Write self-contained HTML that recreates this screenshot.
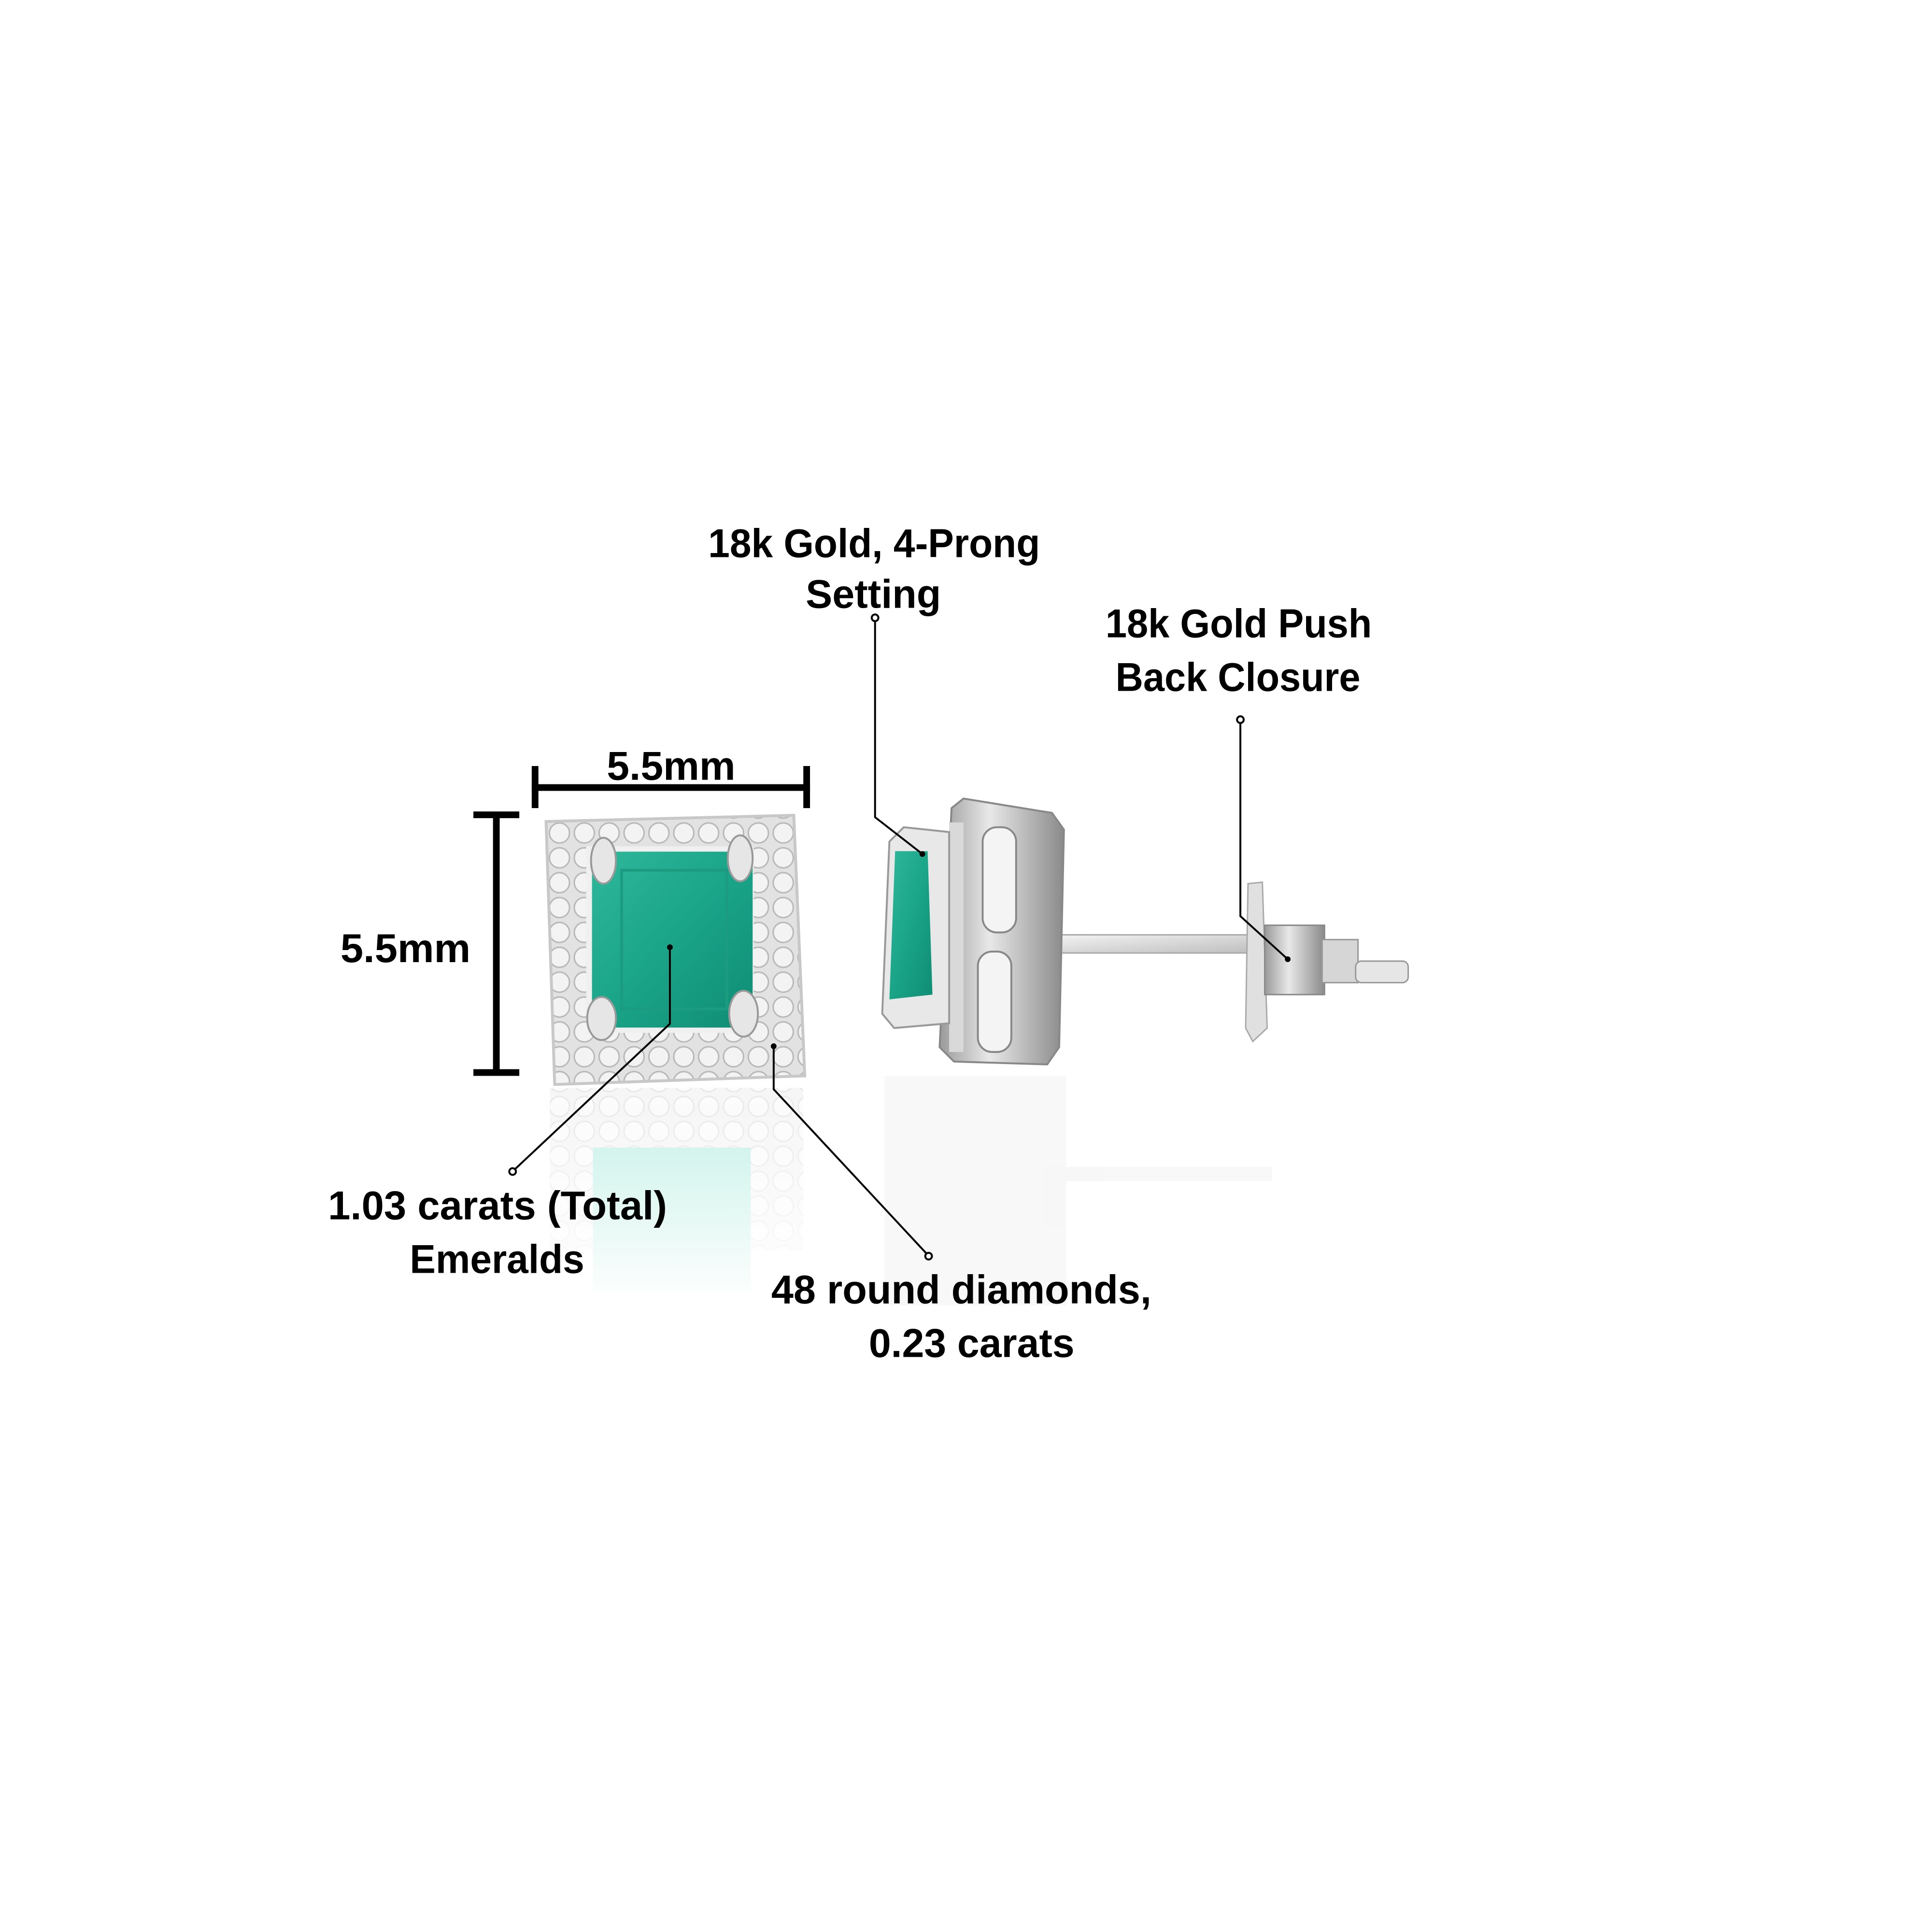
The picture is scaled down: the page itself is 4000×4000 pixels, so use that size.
<!DOCTYPE html>
<html><head><meta charset="utf-8"><style>
html,body{margin:0;padding:0;background:#fff;}
svg{display:block;}
text{font-family:"Liberation Sans",sans-serif;font-weight:bold;fill:#000;font-size:84px;}
</style></head><body>
<svg width="4000" height="4000" viewBox="0 0 4000 4000" xmlns="http://www.w3.org/2000/svg">
<defs>
<linearGradient id="metal" x1="0" y1="0" x2="1" y2="1">
<stop offset="0" stop-color="#f4f4f4"/><stop offset="0.5" stop-color="#d8d8d8"/><stop offset="1" stop-color="#bdbdbd"/>
</linearGradient>
<linearGradient id="em" x1="0" y1="0" x2="1" y2="1">
<stop offset="0" stop-color="#2fb89a"/><stop offset="0.5" stop-color="#1aa488"/><stop offset="1" stop-color="#0f8d74"/>
</linearGradient>
<linearGradient id="side" x1="0" y1="0" x2="1" y2="0">
<stop offset="0" stop-color="#9a9a9a"/><stop offset="0.4" stop-color="#e8e8e8"/><stop offset="1" stop-color="#8a8a8a"/>
</linearGradient>
<linearGradient id="fade" x1="0" y1="0" x2="0" y2="1">
<stop offset="0" stop-color="#fff" stop-opacity="0.3"/><stop offset="1" stop-color="#fff" stop-opacity="1"/>
</linearGradient>
<pattern id="dia" width="52" height="52" patternUnits="userSpaceOnUse">
<rect width="52" height="52" fill="#e2e2e2"/>
<circle cx="26" cy="26" r="21" fill="#f3f3f3" stroke="#b8b8b8" stroke-width="3"/>
</pattern>
</defs>
<g transform="scale(0.99)">
<!-- front earring reflection -->
<g opacity="0.45">
<rect x="1150" y="2275" width="530" height="340" fill="url(#dia)"/>
<rect x="1240" y="2400" width="330" height="300" fill="#3fcfae"/>
</g>
<rect x="1140" y="2270" width="560" height="460" fill="url(#fade)"/>

<!-- front earring -->
<polygon points="1142,1718 1660,1705 1683,2250 1160,2268" fill="url(#dia)" stroke="#c8c8c8" stroke-width="6"/>
<rect x="1226" y="1770" width="350" height="390" fill="#f0f0f0"/>
<polygon points="1268,1781 1548,1781 1574,1810 1574,2130 1548,2149 1268,2149 1238,2130 1238,1810" fill="url(#em)"/>
<path d="M1300 1820 L1520 1820 L1520 2110 L1300 2110 Z" fill="none" stroke="#1b9c80" stroke-width="6"/>
<ellipse cx="1262" cy="1800" rx="26" ry="48" fill="#e6e6e6" stroke="#999" stroke-width="4"/>
<ellipse cx="1548" cy="1795" rx="26" ry="48" fill="#e6e6e6" stroke="#999" stroke-width="4"/>
<ellipse cx="1258" cy="2130" rx="30" ry="45" fill="#e6e6e6" stroke="#999" stroke-width="4"/>
<ellipse cx="1555" cy="2120" rx="30" ry="48" fill="#e6e6e6" stroke="#999" stroke-width="4"/>

<!-- side earring reflection -->
<g opacity="0.1">
<rect x="1850" y="2250" width="380" height="480" fill="#bbb"/>
<rect x="2200" y="2440" width="460" height="30" fill="#bbb"/>
</g>

<!-- side earring -->
<rect x="2200" y="1955" width="440" height="38" fill="url(#metal)" stroke="#aaa" stroke-width="3"/>
<polygon points="1990,1690 2015,1670 2200,1700 2225,1735 2215,2190 2190,2226 1995,2220 1965,2190" fill="url(#side)" stroke="#888" stroke-width="4"/>
<rect x="1985" y="1720" width="30" height="480" fill="#d9d9d9"/>
<rect x="2055" y="1730" width="70" height="220" rx="30" fill="#f4f4f4" stroke="#888" stroke-width="4"/>
<rect x="2045" y="1990" width="70" height="210" rx="30" fill="#f4f4f4" stroke="#888" stroke-width="4"/>
<polygon points="1860,1760 1890,1730 1985,1740 1985,2140 1870,2150 1845,2120" fill="#e8e8e8" stroke="#999" stroke-width="4"/>
<polygon points="1872,1780 1940,1780 1950,2080 1860,2090" fill="url(#em)"/>
<!-- push back -->
<polygon points="2610,1848 2640,1845 2650,2150 2620,2178 2605,2150" fill="#e0e0e0" stroke="#aaa" stroke-width="3"/>
<rect x="2645" y="1935" width="125" height="145" fill="url(#side)" stroke="#888" stroke-width="3"/>
<rect x="2765" y="1965" width="75" height="90" fill="#d6d6d6" stroke="#999" stroke-width="3"/>
<rect x="2835" y="2010" width="110" height="45" rx="12" fill="#e6e6e6" stroke="#999" stroke-width="3"/>

<!-- dimension bars -->
<g fill="#000">
<rect x="1112" y="1640" width="582" height="14"/>
<rect x="1112" y="1602" width="14" height="88"/>
<rect x="1680" y="1602" width="14" height="88"/>
<rect x="1031" y="1700" width="14" height="548"/>
<rect x="990" y="1697" width="96" height="14"/>
<rect x="990" y="2236" width="96" height="14"/>
</g>

<!-- leader lines -->
<g stroke="#000" stroke-width="4" fill="none">
<polyline points="1830,1300 1830,1709 1929,1786"/>
<polyline points="2594,1513 2594,1916 2693,2006"/>
<polyline points="1076,2446 1401,2141 1401,1981"/>
<polyline points="1938,2622 1618,2278 1618,2188"/>
</g>
<g stroke="#000" stroke-width="4" fill="#fff">
<circle cx="1830" cy="1292" r="7"/>
<circle cx="2594" cy="1505" r="7"/>
<circle cx="1072" cy="2450" r="7"/>
<circle cx="1942" cy="2627" r="7"/>
</g>
<g fill="#000">
<circle cx="1929" cy="1786" r="6"/><circle cx="2693" cy="2006" r="6"/>
<circle cx="1401" cy="1981" r="6"/><circle cx="1618" cy="2188" r="6"/>
</g>

<!-- labels -->
<text x="1481" y="1165" textLength="694" lengthAdjust="spacingAndGlyphs">18k Gold, 4-Prong</text>
<text x="1685" y="1271" textLength="283" lengthAdjust="spacingAndGlyphs">Setting</text>
<text x="2312" y="1333" textLength="557" lengthAdjust="spacingAndGlyphs">18k Gold Push</text>
<text x="2333" y="1445" textLength="512" lengthAdjust="spacingAndGlyphs">Back Closure</text>
<text x="1269" y="1631" textLength="269" lengthAdjust="spacingAndGlyphs">5.5mm</text>
<text x="712" y="2012" textLength="272" lengthAdjust="spacingAndGlyphs">5.5mm</text>
<text x="686" y="2550" textLength="709" lengthAdjust="spacingAndGlyphs">1.03 carats (Total)</text>
<text x="857" y="2662" textLength="365" lengthAdjust="spacingAndGlyphs">Emeralds</text>
<text x="1613" y="2726" textLength="795" lengthAdjust="spacingAndGlyphs">48 round diamonds,</text>
<text x="1817" y="2838" textLength="430" lengthAdjust="spacingAndGlyphs">0.23 carats</text>
</g>
</svg>
</body></html>
